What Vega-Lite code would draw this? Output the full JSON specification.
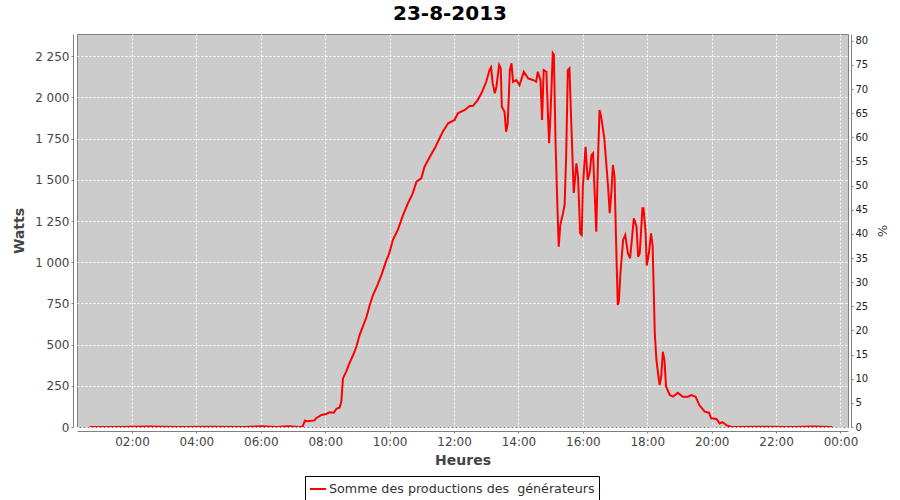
{
  "$schema": "https://vega.github.io/schema/vega-lite/v6.json",
  "width": 771,
  "height": 393,
  "autosize": {"type": "none"},
  "padding": {"left": 77, "top": 34, "right": 52, "bottom": 73},
  "background": "white",
  "title": {"text": "23-8-2013", "font": "DejaVu Sans", "fontSize": 20, "fontWeight": "bold", "color": "#000000", "anchor": "middle", "dx": -12.5, "offset": 10},
  "data": {"values": [
    {"t": "2013-08-23T00:41:00Z", "w": 0},
    {"t": "2013-08-23T01:30:00Z", "w": 0},
    {"t": "2013-08-23T02:30:00Z", "w": 3},
    {"t": "2013-08-23T03:30:00Z", "w": 0},
    {"t": "2013-08-23T04:30:00Z", "w": 2},
    {"t": "2013-08-23T05:30:00Z", "w": 0},
    {"t": "2013-08-23T06:00:00Z", "w": 5},
    {"t": "2013-08-23T06:30:00Z", "w": 0},
    {"t": "2013-08-23T06:50:00Z", "w": 4},
    {"t": "2013-08-23T07:12:00Z", "w": 0},
    {"t": "2013-08-23T07:18:00Z", "w": 3},
    {"t": "2013-08-23T07:22:00Z", "w": 38},
    {"t": "2013-08-23T07:27:00Z", "w": 35},
    {"t": "2013-08-23T07:40:00Z", "w": 40},
    {"t": "2013-08-23T07:43:00Z", "w": 53},
    {"t": "2013-08-23T07:53:00Z", "w": 73},
    {"t": "2013-08-23T08:02:00Z", "w": 79},
    {"t": "2013-08-23T08:08:00Z", "w": 89},
    {"t": "2013-08-23T08:16:00Z", "w": 87},
    {"t": "2013-08-23T08:21:00Z", "w": 111},
    {"t": "2013-08-23T08:27:00Z", "w": 119},
    {"t": "2013-08-23T08:30:00Z", "w": 154},
    {"t": "2013-08-23T08:33:00Z", "w": 295},
    {"t": "2013-08-23T08:39:00Z", "w": 336},
    {"t": "2013-08-23T08:45:00Z", "w": 386},
    {"t": "2013-08-23T08:52:00Z", "w": 437},
    {"t": "2013-08-23T08:58:00Z", "w": 487},
    {"t": "2013-08-23T09:04:00Z", "w": 558},
    {"t": "2013-08-23T09:10:00Z", "w": 609},
    {"t": "2013-08-23T09:17:00Z", "w": 669},
    {"t": "2013-08-23T09:23:00Z", "w": 740},
    {"t": "2013-08-23T09:29:00Z", "w": 801},
    {"t": "2013-08-23T09:36:00Z", "w": 851},
    {"t": "2013-08-23T09:45:00Z", "w": 925},
    {"t": "2013-08-23T09:54:00Z", "w": 1013},
    {"t": "2013-08-23T09:59:00Z", "w": 1050},
    {"t": "2013-08-23T10:06:00Z", "w": 1135},
    {"t": "2013-08-23T10:15:00Z", "w": 1195},
    {"t": "2013-08-23T10:25:00Z", "w": 1286},
    {"t": "2013-08-23T10:34:00Z", "w": 1357},
    {"t": "2013-08-23T10:43:00Z", "w": 1418},
    {"t": "2013-08-23T10:50:00Z", "w": 1489},
    {"t": "2013-08-23T10:59:00Z", "w": 1509},
    {"t": "2013-08-23T11:05:00Z", "w": 1580},
    {"t": "2013-08-23T11:15:00Z", "w": 1640},
    {"t": "2013-08-23T11:24:00Z", "w": 1691},
    {"t": "2013-08-23T11:33:00Z", "w": 1752},
    {"t": "2013-08-23T11:39:00Z", "w": 1792},
    {"t": "2013-08-23T11:49:00Z", "w": 1843},
    {"t": "2013-08-23T12:01:00Z", "w": 1863},
    {"t": "2013-08-23T12:07:00Z", "w": 1904},
    {"t": "2013-08-23T12:20:00Z", "w": 1924},
    {"t": "2013-08-23T12:29:00Z", "w": 1948},
    {"t": "2013-08-23T12:35:00Z", "w": 1948},
    {"t": "2013-08-23T12:44:00Z", "w": 1984},
    {"t": "2013-08-23T12:51:00Z", "w": 2025},
    {"t": "2013-08-23T13:00:00Z", "w": 2095},
    {"t": "2013-08-23T13:06:00Z", "w": 2166},
    {"t": "2013-08-23T13:09:00Z", "w": 2183},
    {"t": "2013-08-23T13:12:00Z", "w": 2085},
    {"t": "2013-08-23T13:16:00Z", "w": 2025},
    {"t": "2013-08-23T13:19:00Z", "w": 2065},
    {"t": "2013-08-23T13:24:00Z", "w": 2197},
    {"t": "2013-08-23T13:27:00Z", "w": 2177},
    {"t": "2013-08-23T13:29:00Z", "w": 1944},
    {"t": "2013-08-23T13:34:00Z", "w": 1913},
    {"t": "2013-08-23T13:37:00Z", "w": 1792},
    {"t": "2013-08-23T13:40:00Z", "w": 1843},
    {"t": "2013-08-23T13:44:00Z", "w": 2166},
    {"t": "2013-08-23T13:47:00Z", "w": 2207},
    {"t": "2013-08-23T13:50:00Z", "w": 2095},
    {"t": "2013-08-23T13:56:00Z", "w": 2106},
    {"t": "2013-08-23T14:02:00Z", "w": 2075},
    {"t": "2013-08-23T14:10:00Z", "w": 2156},
    {"t": "2013-08-23T14:18:00Z", "w": 2116},
    {"t": "2013-08-23T14:27:00Z", "w": 2106},
    {"t": "2013-08-23T14:33:00Z", "w": 2095},
    {"t": "2013-08-23T14:36:00Z", "w": 2156},
    {"t": "2013-08-23T14:41:00Z", "w": 2106},
    {"t": "2013-08-23T14:44:00Z", "w": 1863},
    {"t": "2013-08-23T14:47:00Z", "w": 2166},
    {"t": "2013-08-23T14:52:00Z", "w": 2156},
    {"t": "2013-08-23T14:57:00Z", "w": 1722},
    {"t": "2013-08-23T14:59:00Z", "w": 1843},
    {"t": "2013-08-23T15:04:00Z", "w": 2268},
    {"t": "2013-08-23T15:06:00Z", "w": 2258},
    {"t": "2013-08-23T15:09:00Z", "w": 1741},
    {"t": "2013-08-23T15:12:00Z", "w": 1397},
    {"t": "2013-08-23T15:15:00Z", "w": 1094},
    {"t": "2013-08-23T15:18:00Z", "w": 1226},
    {"t": "2013-08-23T15:23:00Z", "w": 1297},
    {"t": "2013-08-23T15:26:00Z", "w": 1347},
    {"t": "2013-08-23T15:29:00Z", "w": 1661},
    {"t": "2013-08-23T15:32:00Z", "w": 2166},
    {"t": "2013-08-23T15:35:00Z", "w": 2177},
    {"t": "2013-08-23T15:38:00Z", "w": 1883},
    {"t": "2013-08-23T15:43:00Z", "w": 1420},
    {"t": "2013-08-23T15:48:00Z", "w": 1600},
    {"t": "2013-08-23T15:51:00Z", "w": 1519},
    {"t": "2013-08-23T15:55:00Z", "w": 1175},
    {"t": "2013-08-23T15:58:00Z", "w": 1165},
    {"t": "2013-08-23T16:00:00Z", "w": 1458},
    {"t": "2013-08-23T16:05:00Z", "w": 1701},
    {"t": "2013-08-23T16:09:00Z", "w": 1499},
    {"t": "2013-08-23T16:13:00Z", "w": 1549},
    {"t": "2013-08-23T16:16:00Z", "w": 1650},
    {"t": "2013-08-23T16:19:00Z", "w": 1661},
    {"t": "2013-08-23T16:22:00Z", "w": 1418},
    {"t": "2013-08-23T16:25:00Z", "w": 1185},
    {"t": "2013-08-23T16:28:00Z", "w": 1600},
    {"t": "2013-08-23T16:31:00Z", "w": 1924},
    {"t": "2013-08-23T16:34:00Z", "w": 1883},
    {"t": "2013-08-23T16:40:00Z", "w": 1752},
    {"t": "2013-08-23T16:47:00Z", "w": 1458},
    {"t": "2013-08-23T16:50:00Z", "w": 1297},
    {"t": "2013-08-23T16:53:00Z", "w": 1418},
    {"t": "2013-08-23T16:56:00Z", "w": 1590},
    {"t": "2013-08-23T16:59:00Z", "w": 1519},
    {"t": "2013-08-23T17:02:00Z", "w": 1115},
    {"t": "2013-08-23T17:05:00Z", "w": 740},
    {"t": "2013-08-23T17:07:00Z", "w": 760},
    {"t": "2013-08-23T17:10:00Z", "w": 933},
    {"t": "2013-08-23T17:15:00Z", "w": 1135},
    {"t": "2013-08-23T17:19:00Z", "w": 1165},
    {"t": "2013-08-23T17:24:00Z", "w": 1054},
    {"t": "2013-08-23T17:28:00Z", "w": 1024},
    {"t": "2013-08-23T17:35:00Z", "w": 1266},
    {"t": "2013-08-23T17:40:00Z", "w": 1215},
    {"t": "2013-08-23T17:43:00Z", "w": 1033},
    {"t": "2013-08-23T17:46:00Z", "w": 1054},
    {"t": "2013-08-23T17:51:00Z", "w": 1327},
    {"t": "2013-08-23T17:53:00Z", "w": 1327},
    {"t": "2013-08-23T17:57:00Z", "w": 1175},
    {"t": "2013-08-23T17:59:00Z", "w": 980},
    {"t": "2013-08-23T18:03:00Z", "w": 1054},
    {"t": "2013-08-23T18:07:00Z", "w": 1175},
    {"t": "2013-08-23T18:10:00Z", "w": 1100},
    {"t": "2013-08-23T18:14:00Z", "w": 569},
    {"t": "2013-08-23T18:17:00Z", "w": 410},
    {"t": "2013-08-23T18:21:00Z", "w": 300},
    {"t": "2013-08-23T18:23:00Z", "w": 255},
    {"t": "2013-08-23T18:26:00Z", "w": 305},
    {"t": "2013-08-23T18:29:00Z", "w": 457},
    {"t": "2013-08-23T18:32:00Z", "w": 407},
    {"t": "2013-08-23T18:35:00Z", "w": 245},
    {"t": "2013-08-23T18:42:00Z", "w": 194},
    {"t": "2013-08-23T18:48:00Z", "w": 184},
    {"t": "2013-08-23T18:57:00Z", "w": 208},
    {"t": "2013-08-23T19:06:00Z", "w": 184},
    {"t": "2013-08-23T19:16:00Z", "w": 184},
    {"t": "2013-08-23T19:22:00Z", "w": 194},
    {"t": "2013-08-23T19:30:00Z", "w": 184},
    {"t": "2013-08-23T19:37:00Z", "w": 133},
    {"t": "2013-08-23T19:47:00Z", "w": 93},
    {"t": "2013-08-23T19:55:00Z", "w": 87},
    {"t": "2013-08-23T19:59:00Z", "w": 53},
    {"t": "2013-08-23T20:09:00Z", "w": 49},
    {"t": "2013-08-23T20:15:00Z", "w": 22},
    {"t": "2013-08-23T20:20:00Z", "w": 30},
    {"t": "2013-08-23T20:28:00Z", "w": 10},
    {"t": "2013-08-23T20:37:00Z", "w": 0},
    {"t": "2013-08-23T21:30:00Z", "w": 2},
    {"t": "2013-08-23T22:30:00Z", "w": 0},
    {"t": "2013-08-23T23:10:00Z", "w": 3},
    {"t": "2013-08-23T23:45:00Z", "w": 0}
  ]},
  "layer": [
    {
      "mark": {"type": "line", "strokeWidth": 2, "clip": true},
      "encoding": {
        "x": {
          "field": "t", "type": "temporal",
          "scale": {"type": "utc", "domain": [1377217050000, 1377303240000]},
          "axis": {"title": "Heures", "values": [1377223200000, 1377230400000, 1377237600000, 1377244800000, 1377252000000, 1377259200000, 1377266400000, 1377273600000, 1377280800000, 1377288000000, 1377295200000, 1377302400000], "labelExpr": "utcFormat(datum.value, '%H:%M')", "offset": 4, "domainColor": "#808080", "tickColor": "#808080", "tickSize": 2, "labelPadding": 3, "labelFont": "DejaVu Sans", "labelFontSize": 12, "labelColor": "#444444", "titleFont": "DejaVu Sans", "titleFontSize": 14, "titleFontWeight": "bold", "titleColor": "#444444", "titlePadding": 6, "grid": true, "gridColor": "#ffffff", "gridDash": [2, 2], "gridWidth": 1, "gridOpacity": 1}
        },
        "y": {
          "field": "w", "type": "quantitative",
          "scale": {"domain": [0, 2385], "nice": false, "zero": false},
          "axis": {"title": "Watts", "values": [0, 250, 500, 750, 1000, 1250, 1500, 1750, 2000, 2250], "labelExpr": "replace(format(datum.value, ','), ',', ' ')", "offset": 4, "domainColor": "#808080", "tickColor": "#808080", "tickSize": 2, "labelPadding": 2, "labelFont": "DejaVu Sans", "labelFontSize": 12, "labelColor": "#444444", "titleFont": "DejaVu Sans", "titleFontSize": 14, "titleFontWeight": "bold", "titleColor": "#444444", "titlePadding": 8, "grid": true, "gridColor": "#ffffff", "gridDash": [2, 2], "gridWidth": 1, "gridOpacity": 1}
        },
        "color": {
          "datum": "Somme des productions des\u00a0 générateurs", "type": "nominal",
          "scale": {"range": ["#ff0000"]},
          "legend": {"title": null, "orient": "none", "legendX": 228, "legendY": 442, "strokeColor": "#000000", "padding": 4, "fillColor": "#ffffff", "symbolType": "stroke", "symbolSize": 256, "symbolStrokeWidth": 2, "labelFont": "DejaVu Sans", "labelFontSize": 12.7, "labelColor": "#333333", "labelOffset": 2, "labelLimit": 500}
        }
      }
    },
    {
      "mark": {"type": "line", "opacity": 0, "clip": true},
      "encoding": {
        "x": {"field": "t", "type": "temporal"},
        "y": {
          "field": "w", "type": "quantitative",
          "scale": {"domain": [0, 81.4], "nice": false, "zero": false},
          "axis": {"orient": "right", "title": "%", "values": [0, 5, 10, 15, 20, 25, 30, 35, 40, 45, 50, 55, 60, 65, 70, 75, 80], "offset": 3, "domainColor": "#808080", "tickColor": "#808080", "tickSize": 2, "labelPadding": 2, "labelFont": "DejaVu Sans", "labelFontSize": 10, "labelColor": "#222222", "titleFont": "DejaVu Sans", "titleFontSize": 13, "titleFontWeight": "normal", "titleColor": "#444444", "titlePadding": 7, "grid": false}
        }
      }
    }
  ],
  "resolve": {"scale": {"y": "independent"}},
  "config": {"view": {"fill": "#cccccc", "stroke": "#808080", "strokeWidth": 1}}
}
